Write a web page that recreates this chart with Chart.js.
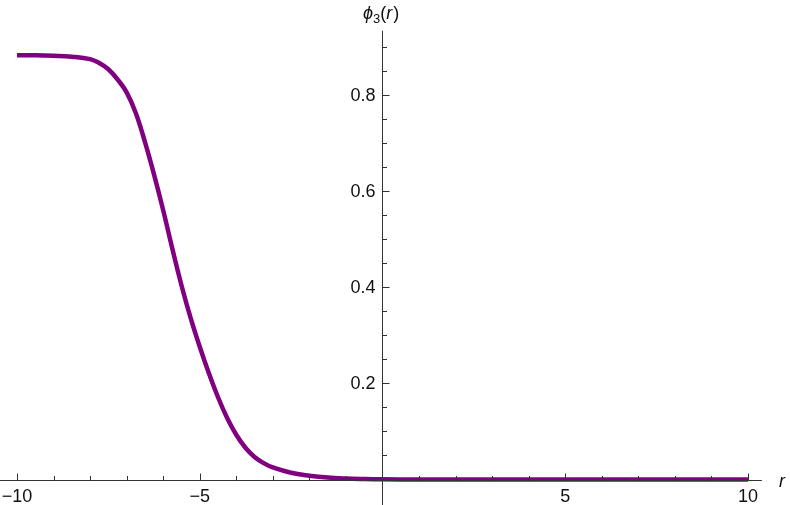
<!DOCTYPE html>
<html>
<head>
<meta charset="utf-8">
<script src="https://cdn.jsdelivr.net/npm/chart.js@4/dist/chart.umd.min.js"></script>
<style>
  html, body { margin: 0; padding: 0; background: #fff; }
  #wrap { width: 790px; height: 505px; position: relative; }
</style>
</head>
<body>
<div id="wrap"><canvas id="plot"></canvas></div>
<script>
/* phi_3(r) profile */
const rValues = [-10, -9.5, -9, -8.5, -8, -7.75, -7.5, -7.25, -7, -6.75, -6.5, -6.25, -6, -5.75, -5.5, -5.25, -5,
  -4.75, -4.5, -4.25, -4, -3.75, -3.5, -3.25, -3, -2.5, -2, -1.5, -1, -0.5, 0, 1, 2, 3, 4, 5, 6, 7, 8, 9, 10];
const phiValues = [0.882, 0.882, 0.881, 0.879, 0.874, 0.866, 0.853, 0.832, 0.805, 0.762, 0.702, 0.634, 0.560, 0.480,
  0.404, 0.336, 0.276, 0.221, 0.171, 0.128, 0.093, 0.066, 0.047, 0.034, 0.025, 0.014, 0.008, 0.004, 0.002, 0.001,
  0.0004, 0, 0, 0, 0, 0, 0, 0, 0, 0, 0];

const xMajorTicks = [-10, -5, 5, 10];
const xTickLabels = ['\u221210', '\u22125', '5', '10'];
const xMinorTicks = [-9, -8, -7, -6, -4, -3, -2, -1, 1, 2, 3, 4, 6, 7, 8, 9];
const yMajorTicks = [0.2, 0.4, 0.6, 0.8];
const yTickLabels = ['0.2', '0.4', '0.6', '0.8'];
const yMinorTicks = [0.05, 0.1, 0.15, 0.25, 0.3, 0.35, 0.45, 0.5, 0.55, 0.65, 0.7, 0.75, 0.85, 0.9];

const FONT = '"Liberation Sans", Arial, sans-serif';
const AXIS_COLOR = '#333';

const axesPlugin = {
  id: 'mmaAxes',
  afterDraw(chart) {
    const { ctx, scales: { x, y } } = chart;
    const x0 = Math.round(x.getPixelForValue(0)) + 0.5;
    const y0 = Math.round(y.getPixelForValue(0)) + 0.5;
    const xRight = x.getPixelForValue(10.38);
    const yTop = y.getPixelForValue(0.933);
    ctx.save();
    ctx.strokeStyle = AXIS_COLOR;
    ctx.lineWidth = 1;
    ctx.beginPath();
    ctx.moveTo(0, y0); ctx.lineTo(xRight, y0);
    ctx.moveTo(x0, yTop); ctx.lineTo(x0, chart.height);
    // x ticks point up, y ticks point right
    xMajorTicks.forEach(v => { const p = Math.round(x.getPixelForValue(v)) + 0.5; ctx.moveTo(p, y0); ctx.lineTo(p, y0 - 7); });
    xMinorTicks.forEach(v => { const p = Math.round(x.getPixelForValue(v)) + 0.5; ctx.moveTo(p, y0); ctx.lineTo(p, y0 - 4.5); });
    yMajorTicks.forEach(v => { const p = Math.round(y.getPixelForValue(v)) + 0.5; ctx.moveTo(x0, p); ctx.lineTo(x0 + 7, p); });
    yMinorTicks.forEach(v => { const p = Math.round(y.getPixelForValue(v)) + 0.5; ctx.moveTo(x0, p); ctx.lineTo(x0 + 4.5, p); });
    ctx.stroke();

    ctx.fillStyle = '#111';
    ctx.font = '18px ' + FONT;
    ctx.textAlign = 'center';
    ctx.textBaseline = 'top';
    xMajorTicks.forEach((v, i) => ctx.fillText(xTickLabels[i], x.getPixelForValue(v), y0 + 8));
    ctx.textAlign = 'right';
    ctx.textBaseline = 'middle';
    yMajorTicks.forEach((v, i) => ctx.fillText(yTickLabels[i], x0 - 7, y.getPixelForValue(v) + 1));

    // axis titles
    ctx.textAlign = 'left';
    ctx.textBaseline = 'alphabetic';
    ctx.font = 'italic 18px ' + FONT;
    ctx.fillText('r', 779, y0 + 6);

    let cx = 363;
    const by = 19;
    const parts = [
      ['italic 18px ', '\u03d5', 0],
      ['13px ', '3', 4],
      ['18px ', '(', 0],
      ['italic 18px ', 'r', 0],
      ['18px ', ')', 0]
    ];
    parts.forEach(([f, t, dy]) => {
      ctx.font = f + FONT;
      ctx.fillText(t, cx, by + dy);
      cx += ctx.measureText(t).width + (t === 'r' ? 1 : 0);
    });
    ctx.restore();
  }
};

new Chart(document.getElementById('plot'), {
  type: 'line',
  data: {
    datasets: [{
      data: rValues.map((r, i) => ({ x: r, y: phiValues[i] })),
      borderColor: '#800080',
      borderWidth: 4.5,
      pointRadius: 0,
      fill: false,
      tension: 0.4
    }]
  },
  options: {
    responsive: true,
    maintainAspectRatio: false,
    animation: false,
    layout: { padding: 0 },
    plugins: { legend: { display: false }, tooltip: { enabled: false } },
    scales: {
      x: { type: 'linear', display: false, min: -10.465, max: 11.15 },
      y: { type: 'linear', display: false, min: -0.053, max: 0.997 }
    }
  },
  plugins: [axesPlugin]
});
</script>
</body>
</html>
